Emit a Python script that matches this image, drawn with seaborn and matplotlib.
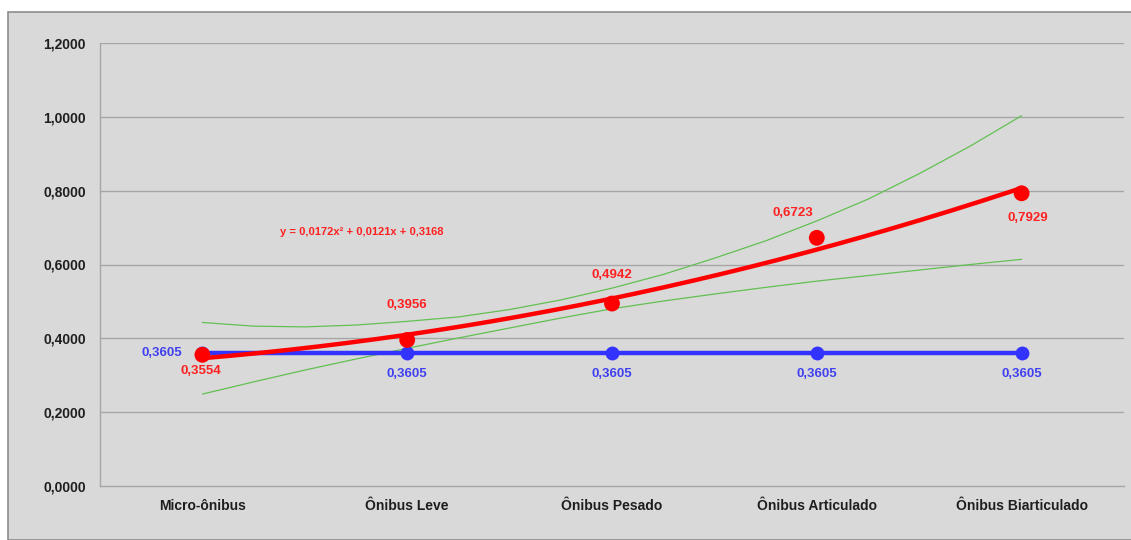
import numpy as np
import pandas as pd
import matplotlib
matplotlib.use("Agg")
import matplotlib.pyplot as plt
from matplotlib.patches import Rectangle
import seaborn as sns

# Vehicle categories and measured values
categories = ["Micro-ônibus", "Ônibus Leve", "Ônibus Pesado", "Ônibus Articulado", "Ônibus Biarticulado"]
observed = [0.3554, 0.3956, 0.4942, 0.6723, 0.7929]
reference = [0.3605, 0.3605, 0.3605, 0.3605, 0.3605]

# Quadratic trend coefficients (x = 1..5)
trend_coef = [0.0172, 0.0121, 0.3168]

# Upper / lower band values at x = 1, 1.25, ..., 5
band_x = [1.0, 1.25, 1.5, 1.75, 2.0, 2.25, 2.5, 2.75, 3.0,
          3.25, 3.5, 3.75, 4.0, 4.25, 4.5, 4.75, 5.0]
band_upper = [0.443, 0.433, 0.431, 0.436, 0.446, 0.458, 0.478, 0.504, 0.536,
              0.573, 0.617, 0.664, 0.718, 0.777, 0.846, 0.921, 1.003]
band_lower = [0.249, 0.282, 0.314, 0.344, 0.373, 0.401, 0.428, 0.455, 0.480,
              0.501, 0.520, 0.538, 0.555, 0.570, 0.585, 0.600, 0.614]

y_ticks = [0.0, 0.2, 0.4, 0.6, 0.8, 1.0, 1.2]

sns.set_theme(style="white")
plt.rcParams["font.family"] = ["Liberation Sans", "DejaVu Sans"]

bg = "#d9d9d9"
grid_c = "#a6a6a6"
red = "#ff0000"
blue = "#3333ff"
green = "#62c052"

fig = plt.figure(figsize=(11.31, 5.40), dpi=100)
fig.patch.set_facecolor("white")
fig.patches.append(Rectangle((8 / 1131, 0), 1.0, 1 - 12 / 540, transform=fig.transFigure,
                             facecolor=bg, edgecolor="#8c8c8c", linewidth=1.2, zorder=-1))

ax = fig.add_axes([100 / 1131, 1 - 486 / 540, 1024 / 1131, (486 - 43) / 540])
ax.set_zorder(1)
ax.set_facecolor(bg)

pos = np.arange(len(categories))
df = pd.DataFrame({"pos": pos, "observed": observed, "reference": reference})

# Horizontal gridlines
for t in y_ticks[1:]:
    ax.axhline(t, color=grid_c, lw=1, zorder=1)

# Band curves (x in 1..5 mapped to category positions)
bx = np.array(band_x) - 1
sns.lineplot(x=bx, y=band_upper, ax=ax, color=green, lw=0.9, zorder=2)
sns.lineplot(x=bx, y=band_lower, ax=ax, color=green, lw=0.9, zorder=2)

# Reference series
sns.lineplot(data=df, x="pos", y="reference", ax=ax, color=blue, lw=3.2,
             marker="o", markersize=10, markeredgewidth=0, zorder=3)

# Observed points
sns.scatterplot(data=df, x="pos", y="observed", ax=ax, color=red, s=130,
                edgecolor="none", zorder=5)

# Quadratic trend
tx = np.linspace(1, 5, 200)
ty = trend_coef[0] * tx ** 2 + trend_coef[1] * tx + trend_coef[2]
sns.lineplot(x=tx - 1, y=ty, ax=ax, color=red, lw=3.2, zorder=4)

def fmt(v):
    return f"{v:.4f}".replace(".", ",")

# Labels for observed values
red_offsets = [(-1, -12), (0, 25.5), (0, 20.6), (-17.5, 18.2), (4.3, -17.7)]
for i, v in enumerate(observed):
    dx, dy = red_offsets[i]
    ax.annotate(fmt(v), (pos[i], v), xytext=(dx, dy), textcoords="offset points",
                ha="center", va="center", color="#ff2020", fontsize=9.5, fontweight="bold")

# Labels for reference values
for i, v in enumerate(reference):
    off = (-29, 0) if i == 0 else (0, -15.5)
    ax.annotate(fmt(v), (pos[i], v), xytext=off, textcoords="offset points",
                ha="center", va="center", color="#4040f0", fontsize=9.5, fontweight="bold")

ax.text(0.78, 0.687, "y = 0,0172x² + 0,0121x + 0,3168", color="#ff2020", fontsize=8,
        fontweight="bold", ha="center", va="center")

ax.set_xlim(-0.5, 4.5)
ax.set_ylim(0, 1.2)
ax.set_yticks(y_ticks)
ax.set_yticklabels([fmt(t) for t in y_ticks], fontsize=10, fontweight="bold", color="#1e1e1e")
ax.set_xticks(pos)
ax.set_xticklabels(categories, fontsize=10, fontweight="bold", color="#1e1e1e")
ax.set_xticks(np.arange(-0.5, 4.6, 1), minor=True)
ax.tick_params(axis="x", which="major", length=0, pad=9)
ax.tick_params(axis="x", which="minor", length=4, color=grid_c, width=1, direction="out")
ax.tick_params(axis="y", length=4, color=grid_c, width=1, direction="out", pad=6)
ax.set_xlabel("")
ax.set_ylabel("")
for s in ["top", "right"]:
    ax.spines[s].set_visible(False)
for s in ["left", "bottom"]:
    ax.spines[s].set_color(grid_c)
    ax.spines[s].set_linewidth(1)

fig.savefig("out.png", dpi=100, facecolor=fig.get_facecolor())
